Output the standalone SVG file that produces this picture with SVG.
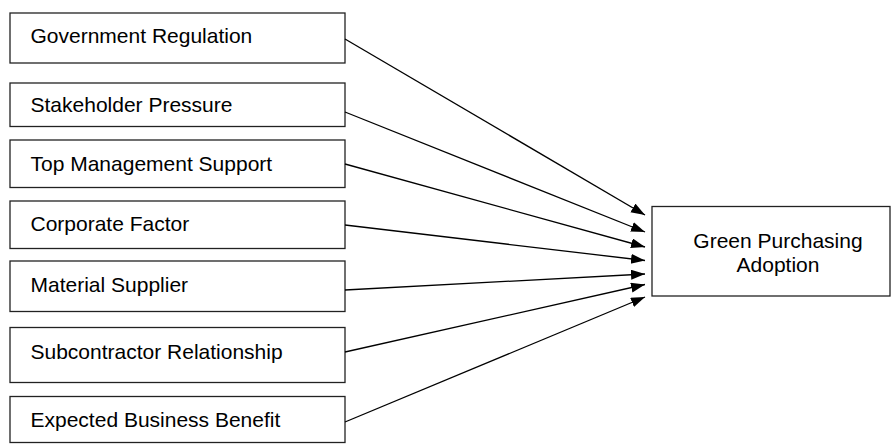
<svg xmlns="http://www.w3.org/2000/svg" width="893" height="444" viewBox="0 0 893 444">
<style>
.box{fill:#fff;stroke:#222;stroke-width:1.3}
.lbl{font-family:"Liberation Sans",Arial,sans-serif;font-size:21px;fill:#000}
.edge{stroke:#000;stroke-width:1.3;fill:none;marker-end:url(#arr)}
</style>
<defs>
<marker id="arr" markerUnits="userSpaceOnUse" markerWidth="15" markerHeight="11" refX="14" refY="5" orient="auto">
<path d="M0,0 L14,5 L0,10 z" fill="#000"/>
</marker>
</defs>
<rect width="893" height="444" fill="#fff"/>
<g id="n1"><rect class="box" x="10" y="13" width="335" height="50"/><text class="lbl" x="30.5" y="43">Government Regulation</text></g>
<g id="n2"><rect class="box" x="10" y="83" width="335" height="43.5"/><text class="lbl" x="30.5" y="112">Stakeholder Pressure</text></g>
<g id="n3"><rect class="box" x="10" y="140" width="335" height="47.5"/><text class="lbl" x="30.5" y="171">Top Management Support</text></g>
<g id="n4"><rect class="box" x="10" y="201" width="335" height="47.5"/><text class="lbl" x="30.5" y="231">Corporate Factor</text></g>
<g id="n5"><rect class="box" x="10" y="261" width="335" height="50.5"/><text class="lbl" x="30.5" y="292">Material Supplier</text></g>
<g id="n6"><rect class="box" x="10" y="327.5" width="335" height="55"/><text class="lbl" x="30.5" y="359">Subcontractor Relationship</text></g>
<g id="n7"><rect class="box" x="10" y="396.5" width="335" height="46"/><text class="lbl" x="30.5" y="427">Expected Business Benefit</text></g>
<g id="target"><rect class="box" x="652" y="206.5" width="238" height="89.5"/><text class="lbl" x="778" y="248" text-anchor="middle">Green Purchasing</text><text class="lbl" x="778" y="271.5" text-anchor="middle">Adoption</text></g>
<g id="connectors">
<line class="edge" x1="345" y1="39" x2="645" y2="215"/>
<line class="edge" x1="345" y1="112" x2="645" y2="232"/>
<line class="edge" x1="345" y1="164" x2="645" y2="247"/>
<line class="edge" x1="345" y1="225" x2="645" y2="260.5"/>
<line class="edge" x1="345" y1="290" x2="645" y2="274"/>
<line class="edge" x1="345" y1="352" x2="645" y2="284.5"/>
<line class="edge" x1="345" y1="422" x2="645" y2="297"/>
</g>
</svg>
